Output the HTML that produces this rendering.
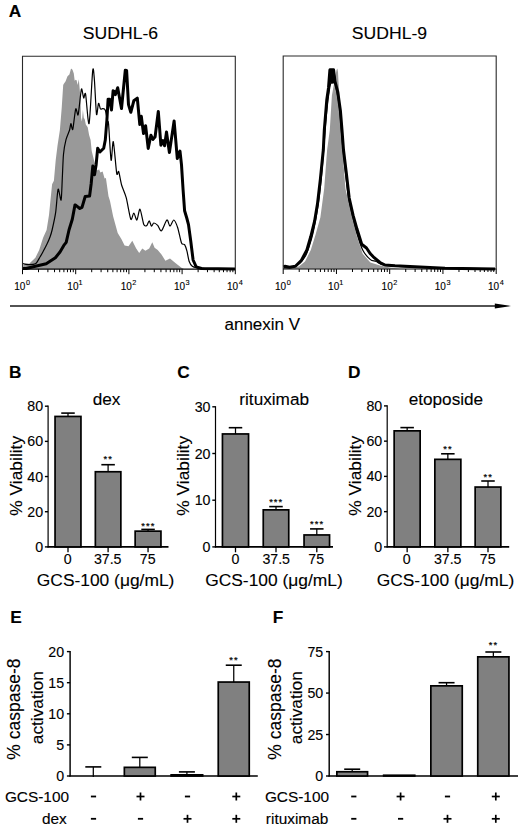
<!DOCTYPE html>
<html><head><meta charset="utf-8"><style>
html,body{margin:0;padding:0;background:#fff;}
svg{display:block;}
text{font-family:"Liberation Sans", sans-serif;fill:#000;}
</style></head><body>
<svg width="520" height="828" viewBox="0 0 520 828">
<rect width="520" height="828" fill="#fff"/>

<text x="8.70" y="17.10" font-size="17.3" font-weight="bold" stroke="#000" stroke-width="0.12">A</text>
<text transform="translate(120.50,38.70) scale(1.035,1)" font-size="17" text-anchor="middle" stroke="#000" stroke-width="0.12">SUDHL-6</text>
<text transform="translate(389.50,38.70) scale(1.035,1)" font-size="17" text-anchor="middle" stroke="#000" stroke-width="0.12">SUDHL-9</text>
<polygon points="22.8,269.0 23.5,264.0 26.0,263.0 29.2,263.8 32.0,261.0 35.4,257.7 39.2,250.0 43.1,237.7 46.6,230.0 49.0,215.0 50.5,200.0 52.1,184.3 53.9,180.7 55.7,160.2 57.5,145.7 59.9,130.0 61.7,108.0 63.2,85.0 63.7,84.0 65.6,81.2 67.5,76.3 69.4,74.4 70.9,69.1 71.8,68.7 72.8,70.6 73.8,73.5 74.7,80.7 75.7,79.7 76.6,80.2 77.6,85.0 78.8,79.2 79.5,86.9 80.5,98.5 81.0,117.7 81.9,121.5 82.9,110.0 83.8,117.7 84.8,119.6 85.8,124.4 87.7,127.3 89.1,135.0 90.6,140.0 91.7,150.9 96.6,170.4 99.2,169.5 100.4,172.6 102.6,171.5 104.6,178.5 105.9,178.0 108.5,196.2 110.0,200.9 113.1,216.2 117.7,233.0 121.5,239.2 124.6,245.4 128.5,246.2 132.3,240.8 136.2,248.5 139.2,253.0 142.3,248.5 145.4,250.8 149.2,248.5 152.3,242.3 154.6,247.7 157.7,250.0 161.5,254.6 165.4,260.8 170.0,258.5 175.4,263.0 181.5,267.7 184.0,269.0" fill="#999999" stroke="none"/>
<path d="M23.00,263.50 C23.63,263.65 26.05,264.56 27.70,264.60 C29.35,264.64 33.76,264.81 35.40,263.80 C37.04,262.79 38.97,258.64 40.00,257.00 C41.03,255.36 42.17,253.23 43.10,251.50 C44.03,249.77 46.08,245.93 47.00,244.00 C47.92,242.07 49.32,238.87 50.00,237.00 C50.68,235.13 51.34,233.32 52.10,230.00 C52.86,226.68 54.90,217.54 55.70,212.10 C56.50,206.66 57.38,190.81 58.10,189.20 C58.82,187.59 60.54,201.45 61.10,200.00 C61.66,198.55 61.98,184.41 62.30,178.30 C62.62,172.19 63.01,159.35 63.50,154.20 C63.99,149.05 65.19,142.93 66.00,139.70 C66.81,136.47 68.95,132.16 69.60,130.00 C70.25,127.84 70.47,123.61 70.90,123.50 C71.33,123.39 72.16,131.13 72.80,129.20 C73.44,127.27 74.99,110.92 75.70,109.00 C76.41,107.08 77.46,116.59 78.10,114.80 C78.74,113.01 80.02,99.07 80.50,95.60 C80.98,92.13 81.27,88.48 81.70,88.80 C82.13,89.12 83.18,97.29 83.70,98.00 C84.22,98.71 84.88,90.70 85.60,94.10 C86.32,97.50 88.15,126.63 89.10,123.50 C90.05,120.37 91.99,76.40 92.70,70.60 C93.41,64.80 93.89,74.17 94.40,80.00 C94.91,85.83 95.95,111.19 96.50,114.30 C97.05,117.41 97.97,104.01 98.50,103.30 C99.03,102.59 99.95,108.29 100.50,109.00 C101.05,109.71 101.96,108.44 102.60,108.60 C103.24,108.76 104.65,108.53 105.30,110.20 C105.95,111.87 107.06,119.22 107.50,121.10 C107.94,122.98 108.12,119.09 108.60,124.30 C109.08,129.51 110.47,157.88 111.10,160.20 C111.73,162.52 112.55,139.95 113.30,141.70 C114.05,143.45 115.98,169.31 116.70,173.30 C117.42,177.29 118.05,170.04 118.70,171.60 C119.35,173.16 120.60,181.52 121.60,185.00 C122.60,188.48 124.97,193.14 126.20,197.70 C127.43,202.26 129.79,217.16 130.80,219.20 C131.81,221.24 132.99,212.89 133.80,213.00 C134.61,213.11 136.07,220.51 136.90,220.00 C137.73,219.49 139.08,208.59 140.00,209.20 C140.92,209.81 142.88,222.44 143.80,224.60 C144.72,226.76 146.18,225.91 146.90,225.40 C147.62,224.89 148.59,220.69 149.20,220.80 C149.81,220.91 150.89,225.91 151.50,226.20 C152.11,226.49 152.97,223.11 153.80,223.00 C154.63,222.89 156.67,224.36 157.70,225.40 C158.73,226.44 160.27,231.52 161.50,230.80 C162.73,230.08 165.77,220.61 166.90,220.00 C168.03,219.39 169.08,226.20 170.00,226.20 C170.92,226.20 172.77,219.80 173.80,220.00 C174.83,220.20 176.67,224.63 177.70,227.70 C178.73,230.77 180.58,240.75 181.50,243.00 C182.42,245.25 183.88,243.56 184.60,244.60 C185.32,245.64 186.29,248.55 186.90,250.80 C187.51,253.05 188.48,259.45 189.20,261.50 C189.92,263.55 191.27,265.37 192.30,266.20 C193.33,267.03 195.21,267.39 196.90,267.70 C198.59,268.01 203.92,268.39 205.00,268.50" fill="none" stroke="#000" stroke-width="1.2" stroke-linejoin="round"/>
<polyline points="22.8,268.5 26.2,268.5 35.4,266.2 46.2,263.8 55.4,257.7 60.0,252.0 63.8,245.4 66.2,242.3 69.0,230.0 72.3,219.2 75.0,204.9 76.5,205.8 79.8,208.5 82.0,207.4 85.2,196.5 89.6,196.0 91.2,183.5 92.8,166.1 94.5,174.8 96.1,165.0 97.7,148.2 99.9,152.0 103.7,148.2 105.3,140.0 106.9,120.0 108.1,99.2 109.6,99.2 111.5,110.0 113.1,90.8 114.6,91.5 115.4,94.6 117.7,87.7 121.5,108.5 125.3,70.2 126.6,70.4 128.5,104.6 130.8,112.3 133.8,100.8 137.3,98.1 139.8,124.6 141.3,116.2 143.5,133.6 145.6,125.7 148.2,148.4 150.9,135.2 153.0,139.4 155.1,136.8 158.3,111.4 160.9,145.2 163.0,140.5 164.6,145.8 166.5,132.0 169.4,152.6 174.1,120.9 177.3,158.5 180.0,151.1 181.5,164.8 183.1,190.0 184.6,210.8 186.9,218.5 188.5,224.6 190.8,241.5 193.1,260.0 196.2,266.9 201.5,268.5 235.0,269.0" fill="none" stroke="#000" stroke-width="3" stroke-linejoin="round"/>
<polyline points="22.5,269.2 22.5,56.3 235.3,56.3 235.3,269.2" fill="none" stroke="#2a2a2a" stroke-width="1.1"/>
<line x1="22.5" y1="269.2" x2="235.3" y2="269.2" stroke="#000" stroke-width="1.2"/>
<line x1="22.50" y1="269.2" x2="22.50" y2="274.2" stroke="#000" stroke-width="1"/>
<line x1="38.51" y1="269.2" x2="38.51" y2="272.2" stroke="#000" stroke-width="1"/>
<line x1="47.88" y1="269.2" x2="47.88" y2="272.2" stroke="#000" stroke-width="1"/>
<line x1="54.53" y1="269.2" x2="54.53" y2="272.2" stroke="#000" stroke-width="1"/>
<line x1="59.69" y1="269.2" x2="59.69" y2="272.2" stroke="#000" stroke-width="1"/>
<line x1="63.90" y1="269.2" x2="63.90" y2="272.2" stroke="#000" stroke-width="1"/>
<line x1="67.46" y1="269.2" x2="67.46" y2="272.2" stroke="#000" stroke-width="1"/>
<line x1="70.54" y1="269.2" x2="70.54" y2="272.2" stroke="#000" stroke-width="1"/>
<line x1="73.27" y1="269.2" x2="73.27" y2="272.2" stroke="#000" stroke-width="1"/>
<line x1="75.70" y1="269.2" x2="75.70" y2="274.2" stroke="#000" stroke-width="1"/>
<line x1="91.71" y1="269.2" x2="91.71" y2="272.2" stroke="#000" stroke-width="1"/>
<line x1="101.08" y1="269.2" x2="101.08" y2="272.2" stroke="#000" stroke-width="1"/>
<line x1="107.73" y1="269.2" x2="107.73" y2="272.2" stroke="#000" stroke-width="1"/>
<line x1="112.89" y1="269.2" x2="112.89" y2="272.2" stroke="#000" stroke-width="1"/>
<line x1="117.10" y1="269.2" x2="117.10" y2="272.2" stroke="#000" stroke-width="1"/>
<line x1="120.66" y1="269.2" x2="120.66" y2="272.2" stroke="#000" stroke-width="1"/>
<line x1="123.74" y1="269.2" x2="123.74" y2="272.2" stroke="#000" stroke-width="1"/>
<line x1="126.47" y1="269.2" x2="126.47" y2="272.2" stroke="#000" stroke-width="1"/>
<line x1="128.90" y1="269.2" x2="128.90" y2="274.2" stroke="#000" stroke-width="1"/>
<line x1="144.91" y1="269.2" x2="144.91" y2="272.2" stroke="#000" stroke-width="1"/>
<line x1="154.28" y1="269.2" x2="154.28" y2="272.2" stroke="#000" stroke-width="1"/>
<line x1="160.93" y1="269.2" x2="160.93" y2="272.2" stroke="#000" stroke-width="1"/>
<line x1="166.09" y1="269.2" x2="166.09" y2="272.2" stroke="#000" stroke-width="1"/>
<line x1="170.30" y1="269.2" x2="170.30" y2="272.2" stroke="#000" stroke-width="1"/>
<line x1="173.86" y1="269.2" x2="173.86" y2="272.2" stroke="#000" stroke-width="1"/>
<line x1="176.94" y1="269.2" x2="176.94" y2="272.2" stroke="#000" stroke-width="1"/>
<line x1="179.67" y1="269.2" x2="179.67" y2="272.2" stroke="#000" stroke-width="1"/>
<line x1="182.10" y1="269.2" x2="182.10" y2="274.2" stroke="#000" stroke-width="1"/>
<line x1="198.11" y1="269.2" x2="198.11" y2="272.2" stroke="#000" stroke-width="1"/>
<line x1="207.48" y1="269.2" x2="207.48" y2="272.2" stroke="#000" stroke-width="1"/>
<line x1="214.13" y1="269.2" x2="214.13" y2="272.2" stroke="#000" stroke-width="1"/>
<line x1="219.29" y1="269.2" x2="219.29" y2="272.2" stroke="#000" stroke-width="1"/>
<line x1="223.50" y1="269.2" x2="223.50" y2="272.2" stroke="#000" stroke-width="1"/>
<line x1="227.06" y1="269.2" x2="227.06" y2="272.2" stroke="#000" stroke-width="1"/>
<line x1="230.14" y1="269.2" x2="230.14" y2="272.2" stroke="#000" stroke-width="1"/>
<line x1="232.87" y1="269.2" x2="232.87" y2="272.2" stroke="#000" stroke-width="1"/>
<line x1="235.3" y1="269.2" x2="235.3" y2="274.2" stroke="#000" stroke-width="1"/>
<text x="14.31" y="290.10" font-size="10.0" stroke="#000" stroke-width="0.12">10</text><text x="25.96" y="284.90" font-size="7.3" stroke="#000" stroke-width="0.12">0</text>
<text x="67.36" y="290.10" font-size="10.0" stroke="#000" stroke-width="0.12">10</text><text x="78.59" y="284.90" font-size="7.3" stroke="#000" stroke-width="0.12">1</text>
<text x="120.79" y="290.10" font-size="10.0" stroke="#000" stroke-width="0.12">10</text><text x="132.36" y="284.90" font-size="7.3" stroke="#000" stroke-width="0.12">2</text>
<text x="173.92" y="290.10" font-size="10.0" stroke="#000" stroke-width="0.12">10</text><text x="185.58" y="284.90" font-size="7.3" stroke="#000" stroke-width="0.12">3</text>
<text x="227.01" y="290.10" font-size="10.0" stroke="#000" stroke-width="0.12">10</text><text x="238.78" y="284.90" font-size="7.3" stroke="#000" stroke-width="0.12">4</text>
<polygon points="283.5,268.8 290.0,268.3 295.4,267.5 299.2,266.3 305.0,261.5 310.8,250.0 315.6,234.6 320.4,217.3 324.2,188.5 327.1,150.0 329.8,130.0 331.9,95.5 336.5,70.0 337.4,68.5 338.0,72.0 338.5,82.0 340.4,110.7 342.0,130.0 342.5,150.0 345.4,188.5 351.2,213.5 356.9,236.5 362.7,253.8 370.4,262.5 380.0,265.4 390.0,267.5 400.0,268.8" fill="#999999" stroke="none"/>
<path d="M283.50,268.00 C284.63,267.93 289.80,268.17 292.00,267.50 C294.20,266.83 298.20,264.53 300.00,263.00 C301.80,261.47 304.30,258.13 305.50,256.00 C306.70,253.87 308.00,250.07 309.00,247.00 C310.00,243.93 312.00,237.27 313.00,233.00 C314.00,228.73 315.63,220.07 316.50,215.00 C317.37,209.93 318.70,201.67 319.50,195.00 C320.30,188.33 321.70,174.33 322.50,165.00 C323.30,155.67 324.77,133.67 325.50,125.00 C326.23,116.33 327.33,105.47 328.00,100.00 C328.67,94.53 329.93,86.28 330.50,84.00 C331.07,81.72 331.83,83.43 332.30,82.90 C332.77,82.37 333.44,79.05 334.00,80.00 C334.56,80.95 335.77,86.27 336.50,90.00 C337.23,93.73 338.86,102.67 339.50,108.00 C340.14,113.33 340.83,124.40 341.30,130.00 C341.77,135.60 342.44,144.27 343.00,150.00 C343.56,155.73 344.77,166.60 345.50,173.00 C346.23,179.40 347.57,192.27 348.50,198.00 C349.43,203.73 351.43,211.47 352.50,216.00 C353.57,220.53 355.14,227.47 356.50,232.00 C357.86,236.53 360.85,246.32 362.70,250.00 C364.55,253.68 368.60,258.07 370.40,259.60 C372.20,261.13 374.25,260.71 376.20,261.50 C378.15,262.29 379.16,264.70 385.00,265.50 C390.84,266.30 405.33,267.06 420.00,267.50 C434.67,267.94 485.00,268.63 495.00,268.80" fill="none" stroke="#000" stroke-width="1.2" stroke-linejoin="round"/>
<polyline points="283.5,267.0 284.8,266.3 289.6,267.3 295.4,266.3 301.2,260.6 306.9,250.0 310.8,236.5 314.6,221.2 317.5,203.8 320.4,178.8 323.3,150.0 324.3,130.0 326.8,99.7 328.5,87.9 329.9,69.9 333.6,69.9 334.9,81.1 337.8,92.1 340.4,110.7 342.0,130.0 343.5,150.0 346.3,173.0 349.2,198.0 353.1,215.4 356.9,228.8 361.7,244.2 366.5,248.0 370.4,253.8 374.2,257.7 380.0,262.5 385.0,265.0 395.0,265.8 420.0,267.0 445.0,268.2 495.0,269.0" fill="none" stroke="#000" stroke-width="3" stroke-linejoin="round"/>
<polyline points="283.2,269.0 283.2,56.0 496.2,56.0 496.2,269.0" fill="none" stroke="#2a2a2a" stroke-width="1.1"/>
<line x1="283.2" y1="269.0" x2="496.2" y2="269.0" stroke="#000" stroke-width="1.2"/>
<line x1="283.20" y1="269.0" x2="283.20" y2="274.0" stroke="#000" stroke-width="1"/>
<line x1="299.23" y1="269.0" x2="299.23" y2="272.0" stroke="#000" stroke-width="1"/>
<line x1="308.61" y1="269.0" x2="308.61" y2="272.0" stroke="#000" stroke-width="1"/>
<line x1="315.26" y1="269.0" x2="315.26" y2="272.0" stroke="#000" stroke-width="1"/>
<line x1="320.42" y1="269.0" x2="320.42" y2="272.0" stroke="#000" stroke-width="1"/>
<line x1="324.64" y1="269.0" x2="324.64" y2="272.0" stroke="#000" stroke-width="1"/>
<line x1="328.20" y1="269.0" x2="328.20" y2="272.0" stroke="#000" stroke-width="1"/>
<line x1="331.29" y1="269.0" x2="331.29" y2="272.0" stroke="#000" stroke-width="1"/>
<line x1="334.01" y1="269.0" x2="334.01" y2="272.0" stroke="#000" stroke-width="1"/>
<line x1="336.45" y1="269.0" x2="336.45" y2="274.0" stroke="#000" stroke-width="1"/>
<line x1="352.48" y1="269.0" x2="352.48" y2="272.0" stroke="#000" stroke-width="1"/>
<line x1="361.86" y1="269.0" x2="361.86" y2="272.0" stroke="#000" stroke-width="1"/>
<line x1="368.51" y1="269.0" x2="368.51" y2="272.0" stroke="#000" stroke-width="1"/>
<line x1="373.67" y1="269.0" x2="373.67" y2="272.0" stroke="#000" stroke-width="1"/>
<line x1="377.89" y1="269.0" x2="377.89" y2="272.0" stroke="#000" stroke-width="1"/>
<line x1="381.45" y1="269.0" x2="381.45" y2="272.0" stroke="#000" stroke-width="1"/>
<line x1="384.54" y1="269.0" x2="384.54" y2="272.0" stroke="#000" stroke-width="1"/>
<line x1="387.26" y1="269.0" x2="387.26" y2="272.0" stroke="#000" stroke-width="1"/>
<line x1="389.70" y1="269.0" x2="389.70" y2="274.0" stroke="#000" stroke-width="1"/>
<line x1="405.73" y1="269.0" x2="405.73" y2="272.0" stroke="#000" stroke-width="1"/>
<line x1="415.11" y1="269.0" x2="415.11" y2="272.0" stroke="#000" stroke-width="1"/>
<line x1="421.76" y1="269.0" x2="421.76" y2="272.0" stroke="#000" stroke-width="1"/>
<line x1="426.92" y1="269.0" x2="426.92" y2="272.0" stroke="#000" stroke-width="1"/>
<line x1="431.14" y1="269.0" x2="431.14" y2="272.0" stroke="#000" stroke-width="1"/>
<line x1="434.70" y1="269.0" x2="434.70" y2="272.0" stroke="#000" stroke-width="1"/>
<line x1="437.79" y1="269.0" x2="437.79" y2="272.0" stroke="#000" stroke-width="1"/>
<line x1="440.51" y1="269.0" x2="440.51" y2="272.0" stroke="#000" stroke-width="1"/>
<line x1="442.95" y1="269.0" x2="442.95" y2="274.0" stroke="#000" stroke-width="1"/>
<line x1="458.98" y1="269.0" x2="458.98" y2="272.0" stroke="#000" stroke-width="1"/>
<line x1="468.36" y1="269.0" x2="468.36" y2="272.0" stroke="#000" stroke-width="1"/>
<line x1="475.01" y1="269.0" x2="475.01" y2="272.0" stroke="#000" stroke-width="1"/>
<line x1="480.17" y1="269.0" x2="480.17" y2="272.0" stroke="#000" stroke-width="1"/>
<line x1="484.39" y1="269.0" x2="484.39" y2="272.0" stroke="#000" stroke-width="1"/>
<line x1="487.95" y1="269.0" x2="487.95" y2="272.0" stroke="#000" stroke-width="1"/>
<line x1="491.04" y1="269.0" x2="491.04" y2="272.0" stroke="#000" stroke-width="1"/>
<line x1="493.76" y1="269.0" x2="493.76" y2="272.0" stroke="#000" stroke-width="1"/>
<line x1="496.2" y1="269.0" x2="496.2" y2="274.0" stroke="#000" stroke-width="1"/>
<text x="275.01" y="290.10" font-size="10.0" stroke="#000" stroke-width="0.12">10</text><text x="286.66" y="284.90" font-size="7.3" stroke="#000" stroke-width="0.12">0</text>
<text x="328.11" y="290.10" font-size="10.0" stroke="#000" stroke-width="0.12">10</text><text x="339.34" y="284.90" font-size="7.3" stroke="#000" stroke-width="0.12">1</text>
<text x="381.59" y="290.10" font-size="10.0" stroke="#000" stroke-width="0.12">10</text><text x="393.16" y="284.90" font-size="7.3" stroke="#000" stroke-width="0.12">2</text>
<text x="434.77" y="290.10" font-size="10.0" stroke="#000" stroke-width="0.12">10</text><text x="446.43" y="284.90" font-size="7.3" stroke="#000" stroke-width="0.12">3</text>
<text x="487.91" y="290.10" font-size="10.0" stroke="#000" stroke-width="0.12">10</text><text x="499.68" y="284.90" font-size="7.3" stroke="#000" stroke-width="0.12">4</text>
<polygon points="329.3,68.5 334.4,68.5 335.6,80 334.2,83.5 331,83.5 328.6,81" fill="#000"/>
<line x1="10" y1="305.95" x2="497" y2="305.95" stroke="#1a1a1a" stroke-width="1.4"/>
<polygon points="494.8,303.5 511,306 494.8,308.5" fill="#000"/>
<text x="262.30" y="329.60" font-size="17" text-anchor="middle" stroke="#000" stroke-width="0.12">annexin V</text>
<text x="9.10" y="377.80" font-size="17.3" font-weight="bold" stroke="#000" stroke-width="0.12">B</text>
<text x="177.20" y="377.80" font-size="17.3" font-weight="bold" stroke="#000" stroke-width="0.12">C</text>
<text x="347.90" y="377.80" font-size="17.3" font-weight="bold" stroke="#000" stroke-width="0.12">D</text>
<line x1="48.1" y1="547.5" x2="48.1" y2="405.59999999999997" stroke="#000" stroke-width="1.2"/>
<line x1="44.9" y1="546.90" x2="48.1" y2="546.90" stroke="#000" stroke-width="1.4"/>
<text x="43.10" y="551.90" font-size="14.2" text-anchor="end" stroke="#000" stroke-width="0.12">0</text>
<line x1="44.9" y1="511.72" x2="48.1" y2="511.72" stroke="#000" stroke-width="1.4"/>
<text x="43.10" y="516.72" font-size="14.2" text-anchor="end" stroke="#000" stroke-width="0.12">20</text>
<line x1="44.9" y1="476.55" x2="48.1" y2="476.55" stroke="#000" stroke-width="1.4"/>
<text x="43.10" y="481.55" font-size="14.2" text-anchor="end" stroke="#000" stroke-width="0.12">40</text>
<line x1="44.9" y1="441.38" x2="48.1" y2="441.38" stroke="#000" stroke-width="1.4"/>
<text x="43.10" y="446.38" font-size="14.2" text-anchor="end" stroke="#000" stroke-width="0.12">60</text>
<line x1="44.9" y1="406.20" x2="48.1" y2="406.20" stroke="#000" stroke-width="1.4"/>
<text x="43.10" y="411.20" font-size="14.2" text-anchor="end" stroke="#000" stroke-width="0.12">80</text>
<line x1="47.5" y1="546.9" x2="168.5" y2="546.9" stroke="#000" stroke-width="1.8"/>
<rect x="55.05" y="416.45" width="25.90" height="130.45" fill="#808080" stroke="#000" stroke-width="1.7"/>
<line x1="68.00" y1="546.9" x2="68.00" y2="552.3" stroke="#000" stroke-width="1.3"/>
<line x1="68.00" y1="416.6" x2="68.00" y2="413.1" stroke="#000" stroke-width="1.25"/>
<line x1="61.25" y1="413.1" x2="74.75" y2="413.1" stroke="#000" stroke-width="1.6"/>
<rect x="95.35" y="471.75" width="25.50" height="75.15" fill="#808080" stroke="#000" stroke-width="1.7"/>
<line x1="108.10" y1="546.9" x2="108.10" y2="552.3" stroke="#000" stroke-width="1.3"/>
<line x1="108.10" y1="471.9" x2="108.10" y2="464.7" stroke="#000" stroke-width="1.25"/>
<line x1="101.35" y1="464.7" x2="114.85" y2="464.7" stroke="#000" stroke-width="1.6"/>
<text x="108.35" y="462.40" font-size="9.4" text-anchor="middle" letter-spacing="1.1" stroke="#000" stroke-width="0.2">**</text>
<rect x="135.15" y="531.15" width="25.80" height="15.75" fill="#808080" stroke="#000" stroke-width="1.7"/>
<line x1="148.05" y1="546.9" x2="148.05" y2="552.3" stroke="#000" stroke-width="1.3"/>
<line x1="148.05" y1="531.3" x2="148.05" y2="529.4" stroke="#000" stroke-width="1.25"/>
<line x1="141.30" y1="529.4" x2="154.80" y2="529.4" stroke="#000" stroke-width="1.6"/>
<text x="148.30" y="528.50" font-size="9.4" text-anchor="middle" letter-spacing="1.1" stroke="#000" stroke-width="0.2">***</text>
<text x="67.70" y="564.30" font-size="14.2" text-anchor="middle" stroke="#000" stroke-width="0.12">0</text>
<text x="107.70" y="564.30" font-size="14.2" text-anchor="middle" stroke="#000" stroke-width="0.12">37.5</text>
<text x="147.70" y="564.30" font-size="14.2" text-anchor="middle" stroke="#000" stroke-width="0.12">75</text>
<text x="36.80" y="585.50" font-size="17.4" stroke="#000" stroke-width="0.12">GCS-100 (μg/mL)</text>
<text x="106.50" y="405.30" font-size="17.2" text-anchor="middle" stroke="#000" stroke-width="0.12">dex</text>
<g transform="translate(21.70,475.8) rotate(-90)"><text x="0.00" y="0.00" font-size="17.4" text-anchor="middle" stroke="#000" stroke-width="0.12">% Viability</text></g>
<line x1="215.5" y1="547.5" x2="215.5" y2="406.2" stroke="#000" stroke-width="1.2"/>
<line x1="212.3" y1="546.90" x2="215.5" y2="546.90" stroke="#000" stroke-width="1.4"/>
<text x="210.50" y="551.90" font-size="14.2" text-anchor="end" stroke="#000" stroke-width="0.12">0</text>
<line x1="212.3" y1="500.20" x2="215.5" y2="500.20" stroke="#000" stroke-width="1.4"/>
<text x="210.50" y="505.20" font-size="14.2" text-anchor="end" stroke="#000" stroke-width="0.12">10</text>
<line x1="212.3" y1="453.50" x2="215.5" y2="453.50" stroke="#000" stroke-width="1.4"/>
<text x="210.50" y="458.50" font-size="14.2" text-anchor="end" stroke="#000" stroke-width="0.12">20</text>
<line x1="212.3" y1="406.80" x2="215.5" y2="406.80" stroke="#000" stroke-width="1.4"/>
<text x="210.50" y="411.80" font-size="14.2" text-anchor="end" stroke="#000" stroke-width="0.12">30</text>
<line x1="214.9" y1="546.9" x2="333" y2="546.9" stroke="#000" stroke-width="1.8"/>
<rect x="222.45" y="433.95" width="26.10" height="112.95" fill="#808080" stroke="#000" stroke-width="1.7"/>
<line x1="235.50" y1="546.9" x2="235.50" y2="552.3" stroke="#000" stroke-width="1.3"/>
<line x1="235.50" y1="434.1" x2="235.50" y2="427.7" stroke="#000" stroke-width="1.25"/>
<line x1="228.75" y1="427.7" x2="242.25" y2="427.7" stroke="#000" stroke-width="1.6"/>
<rect x="263.25" y="509.85" width="25.50" height="37.05" fill="#808080" stroke="#000" stroke-width="1.7"/>
<line x1="276.00" y1="546.9" x2="276.00" y2="552.3" stroke="#000" stroke-width="1.3"/>
<line x1="276.00" y1="510.0" x2="276.00" y2="506.6" stroke="#000" stroke-width="1.25"/>
<line x1="269.25" y1="506.6" x2="282.75" y2="506.6" stroke="#000" stroke-width="1.6"/>
<text x="276.25" y="504.90" font-size="9.4" text-anchor="middle" letter-spacing="1.1" stroke="#000" stroke-width="0.2">***</text>
<rect x="304.05" y="534.95" width="25.50" height="11.95" fill="#808080" stroke="#000" stroke-width="1.7"/>
<line x1="316.80" y1="546.9" x2="316.80" y2="552.3" stroke="#000" stroke-width="1.3"/>
<line x1="316.80" y1="535.1" x2="316.80" y2="528.9" stroke="#000" stroke-width="1.25"/>
<line x1="310.05" y1="528.9" x2="323.55" y2="528.9" stroke="#000" stroke-width="1.6"/>
<text x="317.05" y="527.10" font-size="9.4" text-anchor="middle" letter-spacing="1.1" stroke="#000" stroke-width="0.2">***</text>
<text x="235.50" y="564.30" font-size="14.2" text-anchor="middle" stroke="#000" stroke-width="0.12">0</text>
<text x="276.20" y="564.30" font-size="14.2" text-anchor="middle" stroke="#000" stroke-width="0.12">37.5</text>
<text x="316.20" y="564.30" font-size="14.2" text-anchor="middle" stroke="#000" stroke-width="0.12">75</text>
<text x="205.20" y="585.50" font-size="17.4" stroke="#000" stroke-width="0.12">GCS-100 (μg/mL)</text>
<text x="274.20" y="405.30" font-size="17.2" text-anchor="middle" stroke="#000" stroke-width="0.12">rituximab</text>
<g transform="translate(189.10,475.8) rotate(-90)"><text x="0.00" y="0.00" font-size="17.4" text-anchor="middle" stroke="#000" stroke-width="0.12">% Viability</text></g>
<line x1="387.2" y1="547.5" x2="387.2" y2="405.29999999999995" stroke="#000" stroke-width="1.2"/>
<line x1="384.0" y1="546.90" x2="387.2" y2="546.90" stroke="#000" stroke-width="1.4"/>
<text x="382.20" y="551.90" font-size="14.2" text-anchor="end" stroke="#000" stroke-width="0.12">0</text>
<line x1="384.0" y1="511.65" x2="387.2" y2="511.65" stroke="#000" stroke-width="1.4"/>
<text x="382.20" y="516.65" font-size="14.2" text-anchor="end" stroke="#000" stroke-width="0.12">20</text>
<line x1="384.0" y1="476.40" x2="387.2" y2="476.40" stroke="#000" stroke-width="1.4"/>
<text x="382.20" y="481.40" font-size="14.2" text-anchor="end" stroke="#000" stroke-width="0.12">40</text>
<line x1="384.0" y1="441.15" x2="387.2" y2="441.15" stroke="#000" stroke-width="1.4"/>
<text x="382.20" y="446.15" font-size="14.2" text-anchor="end" stroke="#000" stroke-width="0.12">60</text>
<line x1="384.0" y1="405.90" x2="387.2" y2="405.90" stroke="#000" stroke-width="1.4"/>
<text x="382.20" y="410.90" font-size="14.2" text-anchor="end" stroke="#000" stroke-width="0.12">80</text>
<line x1="386.59999999999997" y1="546.9" x2="509.2" y2="546.9" stroke="#000" stroke-width="1.8"/>
<rect x="394.15" y="430.85" width="26.00" height="116.05" fill="#808080" stroke="#000" stroke-width="1.7"/>
<line x1="407.15" y1="546.9" x2="407.15" y2="552.3" stroke="#000" stroke-width="1.3"/>
<line x1="407.15" y1="431.0" x2="407.15" y2="427.6" stroke="#000" stroke-width="1.25"/>
<line x1="400.40" y1="427.6" x2="413.90" y2="427.6" stroke="#000" stroke-width="1.6"/>
<rect x="434.85" y="459.35" width="26.00" height="87.55" fill="#808080" stroke="#000" stroke-width="1.7"/>
<line x1="447.85" y1="546.9" x2="447.85" y2="552.3" stroke="#000" stroke-width="1.3"/>
<line x1="447.85" y1="459.5" x2="447.85" y2="453.8" stroke="#000" stroke-width="1.25"/>
<line x1="441.10" y1="453.8" x2="454.60" y2="453.8" stroke="#000" stroke-width="1.6"/>
<text x="448.10" y="452.40" font-size="9.4" text-anchor="middle" letter-spacing="1.1" stroke="#000" stroke-width="0.2">**</text>
<rect x="475.15" y="487.05" width="25.70" height="59.85" fill="#808080" stroke="#000" stroke-width="1.7"/>
<line x1="488.00" y1="546.9" x2="488.00" y2="552.3" stroke="#000" stroke-width="1.3"/>
<line x1="488.00" y1="487.2" x2="488.00" y2="481" stroke="#000" stroke-width="1.25"/>
<line x1="481.25" y1="481" x2="494.75" y2="481" stroke="#000" stroke-width="1.6"/>
<text x="488.25" y="479.80" font-size="9.4" text-anchor="middle" letter-spacing="1.1" stroke="#000" stroke-width="0.2">**</text>
<text x="406.80" y="564.30" font-size="14.2" text-anchor="middle" stroke="#000" stroke-width="0.12">0</text>
<text x="447.70" y="564.30" font-size="14.2" text-anchor="middle" stroke="#000" stroke-width="0.12">37.5</text>
<text x="487.70" y="564.30" font-size="14.2" text-anchor="middle" stroke="#000" stroke-width="0.12">75</text>
<text x="376.70" y="585.50" font-size="17.4" stroke="#000" stroke-width="0.12">GCS-100 (μg/mL)</text>
<text x="445.90" y="405.30" font-size="17.2" text-anchor="middle" stroke="#000" stroke-width="0.12">etoposide</text>
<g transform="translate(360.80,475.8) rotate(-90)"><text x="0.00" y="0.00" font-size="17.4" text-anchor="middle" stroke="#000" stroke-width="0.12">% Viability</text></g>
<text x="10.20" y="623.10" font-size="17.3" font-weight="bold" stroke="#000" stroke-width="0.12">E</text>
<text x="272.70" y="623.10" font-size="17.3" font-weight="bold" stroke="#000" stroke-width="0.12">F</text>
<line x1="70.1" y1="776.6" x2="70.1" y2="651.0" stroke="#000" stroke-width="1.45"/>
<line x1="66.89999999999999" y1="776.00" x2="70.1" y2="776.00" stroke="#000" stroke-width="1.4"/>
<text x="64.10" y="781.00" font-size="14.2" text-anchor="end" stroke="#000" stroke-width="0.12">0</text>
<line x1="66.89999999999999" y1="744.90" x2="70.1" y2="744.90" stroke="#000" stroke-width="1.4"/>
<text x="64.10" y="749.90" font-size="14.2" text-anchor="end" stroke="#000" stroke-width="0.12">5</text>
<line x1="66.89999999999999" y1="713.80" x2="70.1" y2="713.80" stroke="#000" stroke-width="1.4"/>
<text x="64.10" y="718.80" font-size="14.2" text-anchor="end" stroke="#000" stroke-width="0.12">10</text>
<line x1="66.89999999999999" y1="682.70" x2="70.1" y2="682.70" stroke="#000" stroke-width="1.4"/>
<text x="64.10" y="687.70" font-size="14.2" text-anchor="end" stroke="#000" stroke-width="0.12">15</text>
<line x1="66.89999999999999" y1="651.60" x2="70.1" y2="651.60" stroke="#000" stroke-width="1.4"/>
<text x="64.10" y="656.60" font-size="14.2" text-anchor="end" stroke="#000" stroke-width="0.12">20</text>
<line x1="69.39999999999999" y1="776.0" x2="257.8" y2="776.0" stroke="#000" stroke-width="1.7"/>
<line x1="93.30" y1="777.0" x2="93.30" y2="766.9" stroke="#000" stroke-width="1.25"/>
<line x1="85.30" y1="766.9" x2="101.30" y2="766.9" stroke="#000" stroke-width="1.6"/>
<rect x="124.35" y="767.35" width="30.90" height="8.65" fill="#808080" stroke="#000" stroke-width="1.7"/>
<line x1="139.80" y1="767.5" x2="139.80" y2="757.4" stroke="#000" stroke-width="1.25"/>
<line x1="131.80" y1="757.4" x2="147.80" y2="757.4" stroke="#000" stroke-width="1.6"/>
<rect x="171.15" y="774.85" width="31.50" height="1.15" fill="#808080" stroke="#000" stroke-width="1.7"/>
<line x1="186.90" y1="775.0" x2="186.90" y2="771.9" stroke="#000" stroke-width="1.25"/>
<line x1="178.90" y1="771.9" x2="194.90" y2="771.9" stroke="#000" stroke-width="1.6"/>
<rect x="218.25" y="682.05" width="31.00" height="93.95" fill="#808080" stroke="#000" stroke-width="1.7"/>
<line x1="233.75" y1="682.2" x2="233.75" y2="665.2" stroke="#000" stroke-width="1.25"/>
<line x1="225.75" y1="665.2" x2="241.75" y2="665.2" stroke="#000" stroke-width="1.6"/>
<text x="234.00" y="662.90" font-size="9.4" text-anchor="middle" letter-spacing="1.1" stroke="#000" stroke-width="0.2">**</text>
<g transform="translate(20.30,709.1) rotate(-90)"><text x="0.00" y="0.00" font-size="17.5" text-anchor="middle" stroke="#000" stroke-width="0.12">% caspase-8</text></g>
<g transform="translate(43.10,707.7) rotate(-90)"><text x="0.00" y="0.00" font-size="17.3" text-anchor="middle" stroke="#000" stroke-width="0.12">activation</text></g>
<line x1="90.90" y1="796.5" x2="96.10" y2="796.5" stroke="#000" stroke-width="1.8"/>
<line x1="90.90" y1="818.8" x2="96.10" y2="818.8" stroke="#000" stroke-width="1.8"/>
<line x1="136.50" y1="796.5" x2="144.50" y2="796.5" stroke="#000" stroke-width="1.7"/><line x1="140.5" y1="792.50" x2="140.5" y2="800.50" stroke="#000" stroke-width="1.7"/>
<line x1="137.90" y1="818.8" x2="143.10" y2="818.8" stroke="#000" stroke-width="1.8"/>
<line x1="184.90" y1="796.5" x2="190.10" y2="796.5" stroke="#000" stroke-width="1.8"/>
<line x1="183.50" y1="818.8" x2="191.50" y2="818.8" stroke="#000" stroke-width="1.7"/><line x1="187.5" y1="814.80" x2="187.5" y2="822.80" stroke="#000" stroke-width="1.7"/>
<line x1="232.30" y1="796.5" x2="240.30" y2="796.5" stroke="#000" stroke-width="1.7"/><line x1="236.3" y1="792.50" x2="236.3" y2="800.50" stroke="#000" stroke-width="1.7"/>
<line x1="232.30" y1="818.8" x2="240.30" y2="818.8" stroke="#000" stroke-width="1.7"/><line x1="236.3" y1="814.80" x2="236.3" y2="822.80" stroke="#000" stroke-width="1.7"/>
<text x="4.90" y="802.40" font-size="15.4" stroke="#000" stroke-width="0.12">GCS-100</text>
<text x="66.80" y="824.00" font-size="15.4" text-anchor="end" stroke="#000" stroke-width="0.12">dex</text>
<line x1="329.2" y1="776.6" x2="329.2" y2="651.0" stroke="#000" stroke-width="1.45"/>
<line x1="326.0" y1="776.00" x2="329.2" y2="776.00" stroke="#000" stroke-width="1.4"/>
<text x="323.20" y="781.00" font-size="14.2" text-anchor="end" stroke="#000" stroke-width="0.12">0</text>
<line x1="326.0" y1="734.53" x2="329.2" y2="734.53" stroke="#000" stroke-width="1.4"/>
<text x="323.20" y="739.53" font-size="14.2" text-anchor="end" stroke="#000" stroke-width="0.12">25</text>
<line x1="326.0" y1="693.07" x2="329.2" y2="693.07" stroke="#000" stroke-width="1.4"/>
<text x="323.20" y="698.07" font-size="14.2" text-anchor="end" stroke="#000" stroke-width="0.12">50</text>
<line x1="326.0" y1="651.60" x2="329.2" y2="651.60" stroke="#000" stroke-width="1.4"/>
<text x="323.20" y="656.60" font-size="14.2" text-anchor="end" stroke="#000" stroke-width="0.12">75</text>
<line x1="328.5" y1="776.0" x2="518" y2="776.0" stroke="#000" stroke-width="1.7"/>
<rect x="336.85" y="771.75" width="30.70" height="4.25" fill="#808080" stroke="#000" stroke-width="1.7"/>
<line x1="352.20" y1="771.9" x2="352.20" y2="769.2" stroke="#000" stroke-width="1.25"/>
<line x1="344.20" y1="769.2" x2="360.20" y2="769.2" stroke="#000" stroke-width="1.6"/>
<rect x="383.65" y="775.25" width="31.10" height="0.75" fill="#808080" stroke="#000" stroke-width="1.7"/>
<rect x="430.85" y="685.85" width="31.40" height="90.15" fill="#808080" stroke="#000" stroke-width="1.7"/>
<line x1="446.55" y1="686.0" x2="446.55" y2="682.7" stroke="#000" stroke-width="1.25"/>
<line x1="438.55" y1="682.7" x2="454.55" y2="682.7" stroke="#000" stroke-width="1.6"/>
<rect x="477.75" y="656.85" width="31.20" height="119.15" fill="#808080" stroke="#000" stroke-width="1.7"/>
<line x1="493.35" y1="657.0" x2="493.35" y2="652.0" stroke="#000" stroke-width="1.25"/>
<line x1="485.35" y1="652.0" x2="501.35" y2="652.0" stroke="#000" stroke-width="1.6"/>
<text x="493.60" y="648.10" font-size="9.4" text-anchor="middle" letter-spacing="1.1" stroke="#000" stroke-width="0.2">**</text>
<g transform="translate(281.00,709.1) rotate(-90)"><text x="0.00" y="0.00" font-size="17.5" text-anchor="middle" stroke="#000" stroke-width="0.12">% caspase-8</text></g>
<g transform="translate(302.20,707.7) rotate(-90)"><text x="0.00" y="0.00" font-size="17.3" text-anchor="middle" stroke="#000" stroke-width="0.12">activation</text></g>
<line x1="351.20" y1="796.5" x2="356.40" y2="796.5" stroke="#000" stroke-width="1.8"/>
<line x1="351.20" y1="818.8" x2="356.40" y2="818.8" stroke="#000" stroke-width="1.8"/>
<line x1="396.60" y1="796.5" x2="404.60" y2="796.5" stroke="#000" stroke-width="1.7"/><line x1="400.6" y1="792.50" x2="400.6" y2="800.50" stroke="#000" stroke-width="1.7"/>
<line x1="398.00" y1="818.8" x2="403.20" y2="818.8" stroke="#000" stroke-width="1.8"/>
<line x1="444.90" y1="796.5" x2="450.10" y2="796.5" stroke="#000" stroke-width="1.8"/>
<line x1="443.50" y1="818.8" x2="451.50" y2="818.8" stroke="#000" stroke-width="1.7"/><line x1="447.5" y1="814.80" x2="447.5" y2="822.80" stroke="#000" stroke-width="1.7"/>
<line x1="491.80" y1="796.5" x2="499.80" y2="796.5" stroke="#000" stroke-width="1.7"/><line x1="495.8" y1="792.50" x2="495.8" y2="800.50" stroke="#000" stroke-width="1.7"/>
<line x1="491.80" y1="818.8" x2="499.80" y2="818.8" stroke="#000" stroke-width="1.7"/><line x1="495.8" y1="814.80" x2="495.8" y2="822.80" stroke="#000" stroke-width="1.7"/>
<text x="264.90" y="802.40" font-size="15.4" stroke="#000" stroke-width="0.12">GCS-100</text>
<text x="328.30" y="824.00" font-size="15.4" text-anchor="end" stroke="#000" stroke-width="0.12">rituximab</text>
</svg>
</body></html>
